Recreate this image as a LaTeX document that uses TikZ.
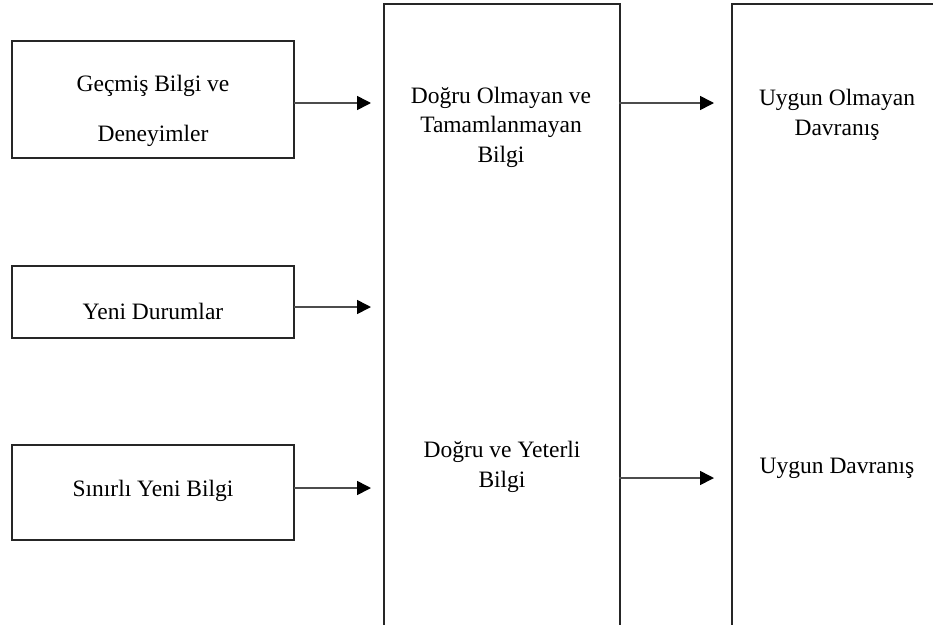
\documentclass[tikz,border=0pt]{standalone}
\usepackage{fontspec}
\setmainfont{Liberation Serif}
\usetikzlibrary{arrows.meta}
\begin{document}
\begin{tikzpicture}[x=1pt,y=-1pt,
  box/.style={draw=black!85,line width=1.6pt,rectangle,inner sep=0pt},
  lbl/.style={align=center,font=\fontsize{23.5}{29.5}\selectfont,inner sep=0pt},
  flow/.style={draw=black!70,line width=1.6pt,
    -{Triangle[length=14pt,width=14pt,color=black,fill=black]}}]
  \useasboundingbox[fill=white] (0,0) rectangle (933,624);
  \clip (0,0) rectangle (933,624);

  % input boxes
  \node[box,minimum width=282pt,minimum height=117pt] (past) at (153,99.5) {};
  \node[box,minimum width=282pt,minimum height=72pt]  (new)  at (153,302) {};
  \node[box,minimum width=282pt,minimum height=95pt]  (lim)  at (153,492.5) {};

  % knowledge and behaviour columns
  \node[box,minimum width=236pt,minimum height=640pt,anchor=north west] (know) at (383,3) {};
  \node[box,minimum width=230pt,minimum height=640pt,anchor=north west] (beh)  at (731,3) {};

  % labels
  \node[lbl,font=\fontsize{23.5}{50}\selectfont] (tpast) at (153,111) {Geçmiş Bilgi ve\\Deneyimler};
  \node[lbl] (tnew) at (153,311) {Yeni Durumlar};
  \node[lbl] (tlim) at (153,491) {Sınırlı Yeni Bilgi};
  \node[lbl] (twrong) at (501,127) {Doğru Olmayan ve\\Tamamlanmayan\\Bilgi};
  \node[lbl] (tright) at (502,467) {Doğru ve Yeterli\\Bilgi};
  \node[lbl] (tbad) at (837,115) {Uygun Olmayan\\Davranış};
  \node[lbl] (tgood) at (837,468) {Uygun Davranış};

  % connectors
  \coordinate (a1) at (294,103);
  \coordinate (a2) at (294,307);
  \coordinate (a3) at (294,488);
  \draw[flow,shorten >=12pt] (a1) -- (a1 -| know.west);
  \draw[flow,shorten >=12pt] (a2) -- (a2 -| know.west);
  \draw[flow,shorten >=12pt] (a3) -- (a3 -| know.west);
  \coordinate (b1) at (619,103);
  \coordinate (b2) at (619,478);
  \draw[flow,shorten >=17pt] (b1) -- (b1 -| beh.west);
  \draw[flow,shorten >=17pt] (b2) -- (b2 -| beh.west);
\end{tikzpicture}
\end{document}
